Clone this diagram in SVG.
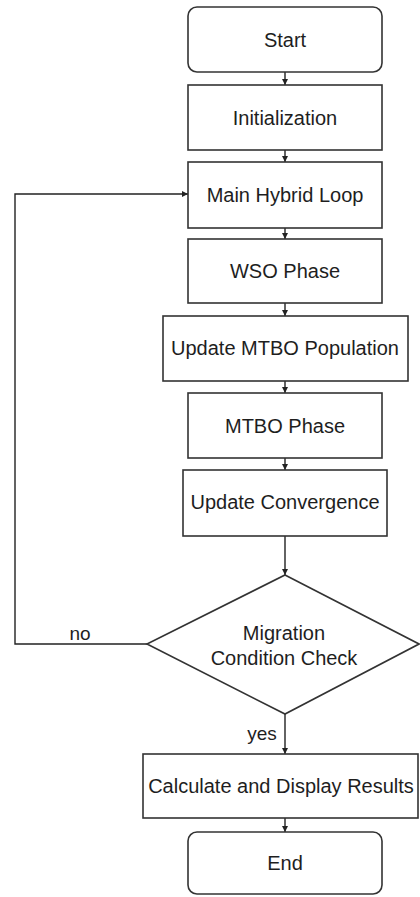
<svg xmlns="http://www.w3.org/2000/svg" width="420" height="897" viewBox="0 0 420 897">
<defs>
<marker id="ah" viewBox="0 0 10 10" refX="10" refY="5" markerWidth="6" markerHeight="6" orient="auto" markerUnits="userSpaceOnUse">
<path d="M0,0 L10,5 L0,10 z" fill="#222"/>
</marker>
<style>
.box{fill:#fff;stroke:#333;stroke-width:1.6}
.lbl{font-family:"Liberation Sans",Arial,sans-serif;font-size:20px;fill:#1e1e1e;text-anchor:middle}
.edge{fill:none;stroke:#222;stroke-width:1.4;marker-end:url(#ah)}
.elbl{font-family:"Liberation Sans",Arial,sans-serif;font-size:19px;fill:#1e1e1e;text-anchor:middle}
</style>
</defs>
<rect width="420" height="897" fill="#fff"/>
<g id="connectors">
<path class="edge" d="M285,72 L285,85"/>
<path class="edge" d="M285,150 L285,162"/>
<path class="edge" d="M285,228 L285,239"/>
<path class="edge" d="M285,303 L285,316"/>
<path class="edge" d="M285,381 L285,393"/>
<path class="edge" d="M285,458 L285,470"/>
<path class="edge" d="M285,536 L285,575"/>
<path class="edge" d="M285,714 L285,754"/>
<path class="edge" d="M285,818 L285,832"/>
<path class="edge" d="M147,644 L15,644 L15,194 L188,194"/>
<text class="elbl" x="80" y="640">no</text>
<text class="elbl" x="262" y="740">yes</text>
</g>
<g id="start"><rect class="box" x="188" y="7" width="194" height="65" rx="9"/><text class="lbl" x="285" y="47">Start</text></g>
<g id="init"><rect class="box" x="188" y="85" width="194" height="65"/><text class="lbl" x="285" y="125">Initialization</text></g>
<g id="main"><rect class="box" x="188" y="162" width="194" height="66"/><text class="lbl" x="285" y="202">Main Hybrid Loop</text></g>
<g id="wso"><rect class="box" x="188" y="239" width="194" height="64"/><text class="lbl" x="285" y="278">WSO Phase</text></g>
<g id="updmtbo"><rect class="box" x="163" y="316" width="245" height="65"/><text class="lbl" x="285" y="355">Update MTBO Population</text></g>
<g id="mtbo"><rect class="box" x="188" y="393" width="194" height="65"/><text class="lbl" x="285" y="433">MTBO Phase</text></g>
<g id="conv"><rect class="box" x="183" y="470" width="204" height="66"/><text class="lbl" x="285" y="509">Update Convergence</text></g>
<g id="check"><polygon class="box" points="285,575 419,644 285,714 147,644"/><text class="lbl" x="284" y="640">Migration</text><text class="lbl" x="284" y="665">Condition Check</text></g>
<g id="calc"><rect class="box" x="143" y="754" width="275" height="64"/><text class="lbl" x="281" y="793">Calculate and Display Results</text></g>
<g id="end"><rect class="box" x="188" y="832" width="194" height="62" rx="9"/><text class="lbl" x="285" y="870">End</text></g>
</svg>
